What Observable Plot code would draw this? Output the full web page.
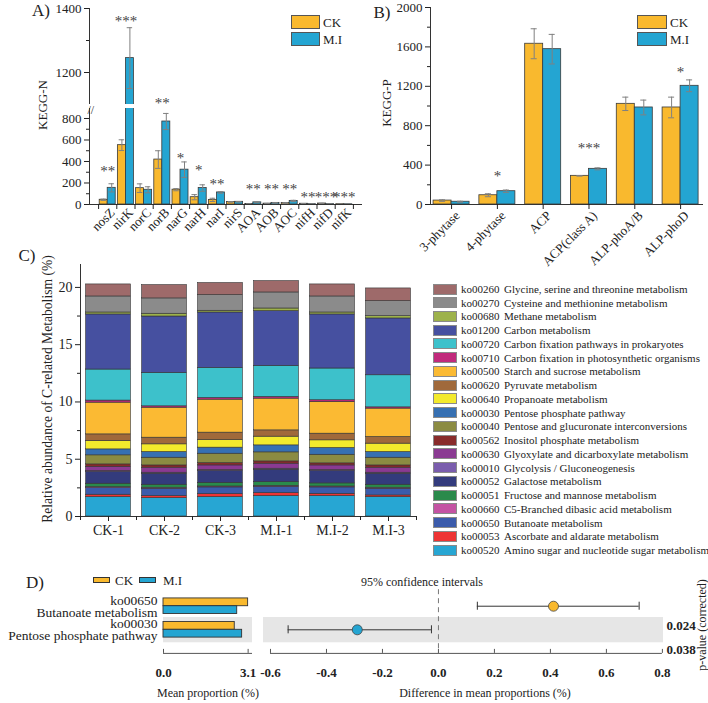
<!DOCTYPE html>
<html><head><meta charset="utf-8">
<script src="https://cdn.jsdelivr.net/npm/d3@7"></script>
<script src="https://cdn.jsdelivr.net/npm/@observablehq/plot@0.6"></script>
<style>
body{margin:0;background:#fff;}
#root{position:relative;width:708px;height:703px;overflow:hidden;font-family:"Liberation Serif","Times New Roman",serif;color:#222;}
.lbl{position:absolute;white-space:nowrap;line-height:1;transform:translate(-50%,-50%);}
.sw{position:absolute;box-sizing:border-box;border:1px solid #555;}
.txt{position:absolute;white-space:nowrap;line-height:1;transform:translateY(-50%);}
</style></head><body><div id="root"></div>
<script>
// ---------------- DATA ----------------
// Panel A (KEGG-N)
const nCats  = ["nosZ","nirK","norC","norB","narG","narH","narI","nirS","AOA","AOB","AOC","nifH","nifD","nifK"];
const nCK    = [44, 552, 152, 418, 138, 68, 43, 24, 5, 8, 14, 7, 9, 3];
const nCKerr = [6, 50, 40, 82, 10, 24, 15, 3, 2, 2, 4, 2, 2, 1];
const nMI    = [155, 1245, 137, 772, 324, 153, 112, 25, 20, 15, 33, 3, 3, 2];
const nMIerr = [38, 95, 28, 75, 72, 30, 7, 3, 3, 3, 6, 1, 1, 1];
const nSig   = ["**","***","","**","*","*","**","","**","**","**","**","***","***"];
const nSigAt = [344, 1372, null, 1116, 465, 353, 223, null, 177, 177, 177, 108, 108, 108];
const nTicksLow = [0, 200, 400, 600, 800], nMinorLow = [100, 300, 500, 700];
const nTicksHigh = [1200, 1400], nMinorHigh = [1300];

// Panel B (KEGG-P)
const pCats  = ["3-phytase","4-phytase","ACP","ACP(class A)","ALP-phoA/B","ALP-phoD"];
const pCK    = [40, 94, 1632, 291, 1022, 985];
const pCKerr = [8, 15, 152, 3, 68, 105];
const pMI    = [28, 135, 1577, 362, 985, 1205];
const pMIerr = [5, 12, 150, 10, 75, 60];
const pSig   = ["","*","","***","","*"];
const pSigAt = [null, 325, null, 609, null, 1381];
const pTicks = [0, 400, 800, 1200, 1600, 2000], pMinor = [200, 600, 1000, 1400, 1800];

const groups = ["CK", "M.I"];

// Panel C (legend order, top -> bottom)
const samples = ["CK-1","CK-2","CK-3","M.I-1","M.I-2","M.I-3"];
const pathCodes = ["ko00260","ko00270","ko00680","ko01200","ko00720","ko00710","ko00500","ko00620","ko00640","ko00030",
                   "ko00040","ko00562","ko00630","ko00010","ko00052","ko00051","ko00660","ko00650","ko00053","ko00520"];
const pathNames = ["Glycine, serine and threonine metabolism","Cysteine and methionine metabolism","Methane metabolism",
  "Carbon metabolism","Carbon fixation pathways in prokaryotes","Carbon fixation in photosynthetic organisms",
  "Starch and sucrose metabolism","Pyruvate metabolism","Propanoate metabolism","Pentose phosphate pathway",
  "Pentose and glucuronate interconversions","Inositol phosphate metabolism","Glyoxylate and dicarboxylate metabolism",
  "Glycolysis / Gluconeogenesis","Galactose metabolism","Fructose and mannose metabolism","C5-Branched dibasic acid metabolism",
  "Butanoate metabolism","Ascorbate and aldarate metabolism","Amino sugar and nucleotide sugar metabolism"];
const pathColors = ["#9E6A6A","#8B8B8B","#9DB24B","#4650A0","#3DC1CB","#C12A7C","#FBBA33","#A0693B","#F3EA2C","#3670B2",
                    "#8B8B42","#882B2B","#8A3A92","#7A5DAD","#333B7C","#2A8A4B","#C453A3","#3B5BAB","#EE3434","#27A6D3"];
// values per sample, bottom -> top (reverse of legend order)
const valCK1 = [1.69,0.21,0.58,0.09,0.29,1.02,0.09,0.37,0.21,0.79,0.52,0.73,0.58,2.77,0.18,2.71,4.81,0.17,1.40,1.05];
const valCK2 = [1.60,0.18,0.64,0.09,0.26,0.96,0.09,0.44,0.20,0.67,0.50,0.67,0.58,2.62,0.12,2.92,4.92,0.24,1.34,1.16];
const valCK3 = [1.69,0.26,0.59,0.08,0.32,1.03,0.08,0.41,0.20,0.82,0.53,0.67,0.64,2.88,0.15,2.62,4.84,0.15,1.37,1.05];
const valMI1 = [1.78,0.26,0.55,0.09,0.32,1.08,0.09,0.44,0.20,0.79,0.61,0.76,0.55,2.77,0.15,2.71,4.78,0.23,1.40,0.99];
const valMI2 = [1.78,0.20,0.56,0.08,0.27,1.08,0.08,0.41,0.18,0.75,0.59,0.67,0.58,2.77,0.15,2.77,4.72,0.17,1.40,1.05];
const valMI3 = [1.69,0.15,0.58,0.09,0.26,0.96,0.09,0.44,0.20,0.67,0.50,0.73,0.58,2.48,0.11,2.80,4.96,0.20,1.31,1.11];
const cTicks = [0, 5, 10, 15, 20], cMinor = [2.5, 7.5, 12.5, 17.5];

// Panel D
const dCodes = ["ko00650","ko00030"];
const dNames = ["Butanoate metabolism","Pentose phosphate pathway"];
const dCK   = [3.10, 2.61];
const dMI   = [2.70, 2.88];
const dDiff = [0.411, -0.290];
const dLo   = [0.139, -0.537];
const dHi   = [0.717, -0.025];
const dP    = ["0.024","0.038"];
const dLeftTicks  = [0, 3.1];
const dRightTicks = [-0.6, -0.4, -0.2, 0, 0.2, 0.4, 0.6, 0.8];

// ---------------- STYLE ----------------
const ckColor = "#F9B92E", miColor = "#24A5D2";
const serif = '"Liberation Serif","Times New Roman",serif';
const root = document.getElementById("root");
const baseStyle = {background: "transparent", fontFamily: serif, fontSize: "13px", color: "#222", overflow: "visible"};
const plain = d => String(d);

function put(svg, left, top) {
  svg.style.position = "absolute"; svg.style.left = left + "px"; svg.style.top = top + "px";
  root.appendChild(svg);
}
function label(text, x, y, size, opts = {}) {
  const d = document.createElement("div");
  d.className = "lbl"; d.textContent = text;
  d.style.left = x + "px"; d.style.top = y + "px"; d.style.fontSize = size + "px";
  if (opts.rotate) d.style.transform = "translate(-50%,-50%) rotate(-90deg)";
  if (opts.bold) d.style.fontWeight = "bold";
  root.appendChild(d);
}
function swatch(x, y, w, h, color, border = "#555") {
  const d = document.createElement("div");
  d.className = "sw"; Object.assign(d.style, {left: x + "px", top: y + "px", width: w + "px", height: h + "px", background: color, borderColor: border});
  root.appendChild(d);
}
function text(t, x, y, size) {
  const d = document.createElement("div");
  d.className = "txt"; d.textContent = t;
  Object.assign(d.style, {left: x + "px", top: y + "px", fontSize: size + "px"});
  root.appendChild(d);
}

function groupRows(cats, ck, ckE, mi, miE, hw) {
  return cats.flatMap((c, i) => [
    {i, g: "CK", v: ck[i], e: ckE[i], x1: i - hw, x2: i, cx: i - hw / 2},
    {i, g: "M.I", v: mi[i], e: miE[i], x1: i, x2: i + hw, cx: i + hw / 2}
  ]);
}
function barMarks(rows, cap, clip) {
  const err = {stroke: "#808080", strokeWidth: 1, clip};
  return [
    Plot.rectY(rows, {x1: "x1", x2: "x2", y1: 0, y2: "v", fill: "g", stroke: "#3a3a3a", strokeWidth: 0.8, clip}),
    Plot.ruleX(rows, {x: "cx", y1: d => d.v - d.e, y2: d => d.v + d.e, ...err}),
    Plot.ruleY(rows, {y: d => d.v + d.e, x1: d => d.cx - cap, x2: d => d.cx + cap, ...err}),
    Plot.ruleY(rows, {y: d => d.v - d.e, x1: d => d.cx - cap, x2: d => d.cx + cap, ...err})
  ];
}
const colorScale = {domain: groups, range: [ckColor, miColor]};

// ---------------- PANEL A ----------------
const hwA = 0.44, capA = 0.15;
const nRows = groupRows(nCats, nCK, nCKerr, nMI, nMIerr, hwA);
const nSigRows = nCats.map((c, i) => ({i, s: nSig[i], at: nSigAt[i]})).filter(d => d.s);
const lowTop = 893, highBottom = 1100;
const boundA = d3.range(-0.5, nCats.length, 1);

const aHigh = Plot.plot({
  width: 370, height: 106, marginLeft: 89, marginRight: 8, marginTop: 8, marginBottom: 2,
  x: {domain: [-1, 14], axis: null},
  y: {domain: [highBottom, 1400], axis: null},
  color: colorScale, style: baseStyle,
  marks: [
    ...barMarks(nRows, capA, true),
    Plot.ruleX([-1], {stroke: "#333"}),
    Plot.axisY({ticks: nTicksHigh, tickSize: 5, tickPadding: 3, tickFormat: plain, label: null}),
    Plot.axisY({ticks: nMinorHigh, tickSize: 3, tickFormat: () => "", label: null}),
    Plot.text(nSigRows.filter(d => d.at >= highBottom), {x: "i", y: "at", text: "s", fontSize: 15, dy: 4, fill: "#444"})
  ]
});
put(aHigh, 0, 0);

const aLow = Plot.plot({
  width: 370, height: 145, marginLeft: 89, marginRight: 8, marginTop: 8, marginBottom: 41,
  x: {domain: [-1, 14], axis: null},
  y: {domain: [0, lowTop], axis: null},
  color: colorScale, style: baseStyle,
  marks: [
    ...barMarks(nRows, capA, true),
    Plot.ruleX([-1], {stroke: "#333"}),
    Plot.ruleY([0], {stroke: "#333"}),
    Plot.axisY({ticks: nTicksLow, tickSize: 5, tickPadding: 3, tickFormat: plain, label: null}),
    Plot.axisY({ticks: nMinorLow, tickSize: 3, tickFormat: () => "", label: null}),
    Plot.axisX({ticks: boundA, tickSize: 5, tickFormat: () => "", label: null}),
    Plot.axisX({ticks: d3.range(nCats.length), tickFormat: i => nCats[i], tickSize: 0, tickPadding: 6, tickRotate: -45, label: null, dx: 5}),
    Plot.text(nSigRows.filter(d => d.at < highBottom), {x: "i", y: "at", text: "s", fontSize: 15, dy: 4, fill: "#444"}),
    Plot.text(["//"], {frameAnchor: "top-left", text: d => d, dx: -2, dy: -3, fontSize: 12, fill: "#333"})
  ]
});
put(aLow, 0, 100);

label("A)", 41, 10, 17);
label("KEGG-N", 42, 105, 13, {rotate: true});
swatch(291, 15, 29, 14, ckColor); text("CK", 323, 22, 13);
swatch(291, 32, 29, 14, miColor); text("M.I", 323, 39, 13);

// ---------------- PANEL B ----------------
const hwB = 0.393, capB = 0.066;
const pRows = groupRows(pCats, pCK, pCKerr, pMI, pMIerr, hwB);
const pSigRows = pCats.map((c, i) => ({i, s: pSig[i], at: pSigAt[i]})).filter(d => d.s);
const bPlot = Plot.plot({
  width: 348, height: 262, marginLeft: 70, marginRight: 5, marginTop: 7, marginBottom: 58,
  x: {domain: [-0.46, 5.5], axis: null},
  y: {domain: [0, 2000], axis: null},
  color: colorScale, style: baseStyle,
  marks: [
    ...barMarks(pRows, capB, false),
    Plot.ruleX([-0.46], {stroke: "#333"}),
    Plot.ruleY([0], {stroke: "#333"}),
    Plot.axisY({ticks: pTicks, tickSize: 5, tickPadding: 3, tickFormat: plain, label: null}),
    Plot.axisY({ticks: pMinor, tickSize: 3, tickFormat: () => "", label: null}),
    Plot.axisX({ticks: d3.range(pCats.length), tickSize: 5, tickFormat: () => "", label: null}),
    Plot.axisX({ticks: d3.range(pCats.length), tickFormat: i => pCats[i], tickSize: 0, tickPadding: 9, tickRotate: -45, label: null, dx: 6}),
    Plot.text(pSigRows, {x: "i", y: "at", text: "s", fontSize: 15, dy: 4, fill: "#444"})
  ]
});
put(bPlot, 360, 0);
label("B)", 382, 12, 17);
label("KEGG-P", 386, 103, 13, {rotate: true});
swatch(637, 15, 30, 14, ckColor); text("CK", 670, 22, 13);
swatch(637, 32, 30, 14, miColor); text("M.I", 670, 39, 13);

// ---------------- PANEL C ----------------
const sampleVals = [valCK1, valCK2, valCK3, valMI1, valMI2, valMI3];
const stackCodes = pathCodes.slice().reverse();
const cData = samples.flatMap((s, i) => stackCodes.map((k, j) => ({i, s, k, v: sampleVals[i][j]})));
const cPlot = Plot.plot({
  width: 430, height: 296, marginLeft: 80, marginRight: 14, marginTop: 14, marginBottom: 30,
  x: {domain: [-0.5, 5.5], axis: null},
  y: {domain: [0, 22], axis: null},
  color: {domain: pathCodes, range: pathColors},
  style: baseStyle,
  marks: [
    Plot.rectY(cData, {x: "i", x1: d => d.i - 0.4, x2: d => d.i + 0.4, y: "v", fill: "k", stroke: "#333", strokeWidth: 0.6}),
    Plot.ruleX([-0.5], {stroke: "#333"}),
    Plot.ruleY([0], {stroke: "#333"}),
    Plot.axisY({ticks: cTicks, tickSize: 5, tickPadding: 3, tickFormat: plain, label: null, fontSize: 14}),
    Plot.axisY({ticks: cMinor, tickSize: 3, tickFormat: () => "", label: null}),
    Plot.axisX({ticks: d3.range(-0.5, 6, 1), tickSize: 4, tickFormat: () => "", label: null}),
    Plot.axisX({ticks: d3.range(samples.length), tickSize: 5, tickPadding: 4, tickFormat: i => samples[i], label: null, fontSize: 14})
  ]
});
put(cPlot, 0, 250);
label("C)", 27, 255, 17);
label("Relative abundance of C-related Metabolism (%)", 48, 389, 13.6, {rotate: true});
pathCodes.forEach((k, j) => {
  const cy = 289 + j * 13.74;
  swatch(433, cy - 5.5, 24, 11, pathColors[j], "#8a8a8a");
  text(k, 461, cy, 11);
  text(pathNames[j], 504, cy, 11);
});

// ---------------- PANEL D ----------------
const dRows = dCodes.map((c, r) => ({r, code: c, name: dNames[r], ck: dCK[r], mi: dMI[r], diff: dDiff[r], lo: dLo[r], hi: dHi[r], p: dP[r]}));
const shaded = dRows.filter(d => d.r % 2 === 1);
const dY = {domain: [-0.7, 2], reverse: true, axis: null};
const dBarH = 0.33;
const dLeft = Plot.plot({
  width: 262, height: 100, marginLeft: 163, marginRight: 10, marginTop: 4.2, marginBottom: 32.1,
  x: {domain: [0, 3.26], axis: null},
  y: dY, style: baseStyle,
  marks: [
    Plot.rect(shaded, {y1: d => d.r - 0.52, y2: d => d.r + 0.55, fill: "#e6e6e6"}),
    Plot.rectX(dRows, {x1: 0, x2: "ck", y1: d => d.r - dBarH, y2: "r", fill: ckColor, stroke: "#333", strokeWidth: 0.9}),
    Plot.rectX(dRows, {x1: 0, x2: "mi", y1: "r", y2: d => d.r + dBarH, fill: miColor, stroke: "#333", strokeWidth: 0.9}),
    Plot.ruleY([2], {stroke: "#555"}),
    Plot.ruleX(dLeftTicks, {x: d => d, y1: 2, y2: 2, insetTop: -4, stroke: "#555"}),
    Plot.axisX({ticks: dLeftTicks, tickSize: 0, tickPadding: 14, tickFormat: d => d.toFixed(1), fontWeight: "bold", label: null}),
    Plot.text(dRows, {y: "r", frameAnchor: "left", text: d => d.code + "\n" + d.name, textAnchor: "end", dx: -6, dy: 0.5, fontSize: 13.5, lineHeight: 0.9, fill: "#222"})
  ]
});
put(dLeft, 0, 585);

const dRight = Plot.plot({
  width: 458, height: 100, marginLeft: 13, marginRight: 45, marginTop: 4.2, marginBottom: 32.1,
  x: {domain: [-0.625, 0.804], axis: null},
  y: dY, style: baseStyle,
  marks: [
    Plot.rect(shaded, {y1: d => d.r - 0.52, y2: d => d.r + 0.55, fill: "#e6e6e6"}),
    Plot.ruleX([0], {stroke: "#777", strokeDasharray: "5,4"}),
    Plot.ruleY([2], {x1: -0.6, x2: 0.8, stroke: "#555"}),
    Plot.ruleX(dRightTicks, {x: d => d, y1: 2, y2: 2, insetTop: -4, stroke: "#555"}),
    Plot.axisX({ticks: dRightTicks, tickSize: 0, tickPadding: 14, tickFormat: d => d.toFixed(1), fontWeight: "bold", label: null}),
    Plot.ruleY(dRows, {y: "r", x1: "lo", x2: "hi", stroke: "#333", strokeWidth: 1}),
    Plot.ruleX(dRows, {x: "lo", y1: d => d.r - 0.17, y2: d => d.r + 0.17, stroke: "#333"}),
    Plot.ruleX(dRows, {x: "hi", y1: d => d.r - 0.17, y2: d => d.r + 0.17, stroke: "#333"}),
    Plot.dot(dRows, {x: "diff", y: "r", r: 5, fill: d => d.diff > 0 ? ckColor : miColor, stroke: "#444", strokeWidth: 0.8}),
    Plot.text(dRows, {y: "r", frameAnchor: "right", text: "p", textAnchor: "start", dx: 3, dy: 20, fontWeight: "bold", fontSize: 13, fill: "#222"})
  ]
});
put(dRight, 250, 585);

label("D)", 35, 582, 17);
swatch(93, 577, 17, 6, ckColor, "#333"); text("CK", 115, 580, 13);
swatch(139, 577, 17, 6, miColor, "#333"); text("M.I", 163, 580, 13);
label("Mean proportion (%)", 208, 693, 12);
label("95% confidence intervals", 422, 582, 12);
label("Difference in mean proportions (%)", 485, 693, 12);
label("p-value (corrected)", 702, 625, 12, {rotate: true});
</script></body></html>
